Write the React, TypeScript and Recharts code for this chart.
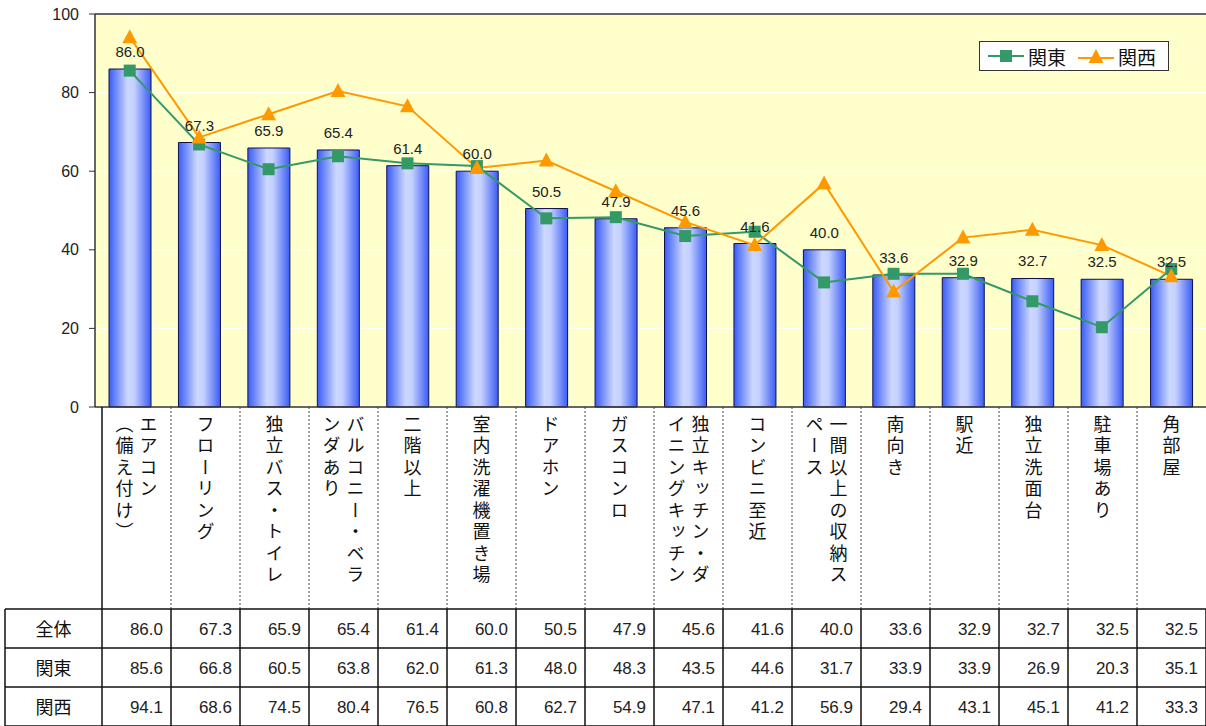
import {
  Bar,
  CartesianGrid,
  ComposedChart,
  LabelList,
  Legend,
  Line,
  ReferenceLine,
  XAxis,
  YAxis,
} from "recharts";

const categories = [
  "エアコン（備え付け）",
  "フローリング",
  "独立バス・トイレ",
  "バルコニー・ベランダあり",
  "二階以上",
  "室内洗濯機置き場",
  "ドアホン",
  "ガスコンロ",
  "独立キッチン・ダイニングキッチン",
  "コンビニ至近",
  "一間以上の収納スペース",
  "南向き",
  "駅近",
  "独立洗面台",
  "駐車場あり",
  "角部屋",
];

// how each label wraps in the vertical header cells
const labelColumns = [
  ["エアコン", "（備え付け）"],
  ["フローリング"],
  ["独立バス・トイレ"],
  ["バルコニー・ベラ", "ンダあり"],
  ["二階以上"],
  ["室内洗濯機置き場"],
  ["ドアホン"],
  ["ガスコンロ"],
  ["独立キッチン・ダ", "イニングキッチン"],
  ["コンビニ至近"],
  ["一間以上の収納ス", "ペース"],
  ["南向き"],
  ["駅近"],
  ["独立洗面台"],
  ["駐車場あり"],
  ["角部屋"],
];

const zentai = [86.0, 67.3, 65.9, 65.4, 61.4, 60.0, 50.5, 47.9, 45.6, 41.6, 40.0, 33.6, 32.9, 32.7, 32.5, 32.5];
const kanto = [85.6, 66.8, 60.5, 63.8, 62.0, 61.3, 48.0, 48.3, 43.5, 44.6, 31.7, 33.9, 33.9, 26.9, 20.3, 35.1];
const kansai = [94.1, 68.6, 74.5, 80.4, 76.5, 60.8, 62.7, 54.9, 47.1, 41.2, 56.9, 29.4, 43.1, 45.1, 41.2, 33.3];

const rowNames = ["全体", "関東", "関西"];
const yTicks = [0, 20, 40, 60, 80, 100];

const GREEN = "#339966";
const ORANGE = "#FF9900";
const FONT = "'Noto Sans CJK JP', sans-serif";
const NUM_FONT = "'Liberation Sans', Arial, sans-serif";

const data = categories.map((name, i) => ({
  name,
  zentai: zentai[i],
  kanto: kanto[i],
  kansai: kansai[i],
}));

function SquareDot(props: any) {
  const { cx, cy } = props;
  if (cx == null || cy == null) return null;
  return <rect x={cx - 6} y={cy - 6} width={12} height={12} fill={GREEN} />;
}

function TriangleDot(props: any) {
  const { cx, cy } = props;
  if (cx == null || cy == null) return null;
  return (
    <polygon
      points={`${cx},${cy - 8} ${cx - 7.5},${cy + 6} ${cx + 7.5},${cy + 6}`}
      fill={ORANGE}
    />
  );
}

function LegendBox() {
  return (
    <div
      style={{
        width: 188,
        height: 28,
        border: "1px solid #333",
        background: "#fff",
        display: "flex",
        alignItems: "center",
        fontFamily: FONT,
        fontSize: 19,
        color: "#111",
      }}
    >
      <svg width={40} height={20} style={{ marginLeft: 6 }}>
        <line x1={2} y1={10} x2={38} y2={10} stroke={GREEN} strokeWidth={2} />
        <rect x={14} y={4} width={12} height={12} fill={GREEN} />
      </svg>
      <span style={{ marginLeft: 2 }}>関東</span>
      <svg width={40} height={20} style={{ marginLeft: 10 }}>
        <line x1={2} y1={12} x2={38} y2={12} stroke={ORANGE} strokeWidth={2} />
        <polygon points="20,3 12.5,17 27.5,17" fill={ORANGE} />
      </svg>
      <span style={{ marginLeft: 2 }}>関西</span>
    </div>
  );
}

// table below the chart (header cells with vertical labels + value rows)
const TABLE_LEFT = 102;
const COL_W = 69;
const ROW_LABEL_LEFT = 5;
const HEADER_TOP = 407;
const ROWS_TOP = 609;
const ROW_H = 39;

function DataTable() {
  const rows = [zentai, kanto, kansai];
  const right = TABLE_LEFT + COL_W * categories.length;
  return (
    <svg
      width={1206}
      height={726}
      style={{ position: "absolute", left: 0, top: 0, pointerEvents: "none" }}
      fontFamily={FONT}
    >
      {/* header cells */}
      <line x1={TABLE_LEFT} y1={HEADER_TOP} x2={TABLE_LEFT} y2={ROWS_TOP + ROW_H * 3} stroke="#111" strokeWidth={1.5} />
      {categories.map((_, i) =>
        i === 0 ? null : (
          <line
            key={`d${i}`}
            x1={TABLE_LEFT + COL_W * i}
            y1={HEADER_TOP}
            x2={TABLE_LEFT + COL_W * i}
            y2={ROWS_TOP}
            stroke="#444"
            strokeDasharray="2 2"
          />
        )
      )}
      {labelColumns.map((cols, i) => {
        const cx = TABLE_LEFT + COL_W * i + COL_W / 2;
        const n = cols.length;
        return cols.map((txt, j) => (
          <text
            key={`l${i}-${j}`}
            x={cx + (n - 1) * 12 - j * 24}
            y={415}
            fontSize={18}
            letterSpacing={3.5}
            fill="#111"
            style={{ writingMode: "vertical-rl" as any }}
          >
            {txt}
          </text>
        ));
      })}

      {/* value rows */}
      {[0, 1, 2, 3].map((r) => (
        <line
          key={`h${r}`}
          x1={ROW_LABEL_LEFT}
          y1={ROWS_TOP + ROW_H * r}
          x2={right}
          y2={ROWS_TOP + ROW_H * r}
          stroke="#111"
          strokeWidth={1.5}
        />
      ))}
      <line x1={ROW_LABEL_LEFT} y1={ROWS_TOP} x2={ROW_LABEL_LEFT} y2={ROWS_TOP + ROW_H * 3} stroke="#111" strokeWidth={1.5} />
      {categories.map((_, i) => (
        <line
          key={`v${i}`}
          x1={TABLE_LEFT + COL_W * (i + 1)}
          y1={ROWS_TOP}
          x2={TABLE_LEFT + COL_W * (i + 1)}
          y2={ROWS_TOP + ROW_H * 3}
          stroke="#111"
          strokeWidth={1.5}
        />
      ))}
      {rowNames.map((nm, r) => (
        <text
          key={`rn${r}`}
          x={(ROW_LABEL_LEFT + TABLE_LEFT) / 2}
          y={ROWS_TOP + ROW_H * r + ROW_H / 2 + 7}
          textAnchor="middle"
          fontSize={18}
          fill="#111"
        >
          {nm}
        </text>
      ))}
      {rows.map((vals, r) =>
        vals.map((v, i) => (
          <text
            key={`c${r}-${i}`}
            x={TABLE_LEFT + COL_W * (i + 1) - 8}
            y={ROWS_TOP + ROW_H * r + ROW_H / 2 + 6}
            textAnchor="end"
            fontSize={17}
            fontFamily={NUM_FONT}
            fill="#222"
          >
            {v.toFixed(1)}
          </text>
        ))
      )}
    </svg>
  );
}

export default function App() {
  return (
    <div
      style={{
        position: "absolute",
        left: 0,
        top: 0,
        width: 1206,
        height: 726,
        background: "#fff",
        fontFamily: FONT,
        overflow: "hidden",
      }}
    >
      <ComposedChart
        width={1206}
        height={726}
        data={data}
        margin={{ top: 14, right: 0, left: 0, bottom: 0 }}
      >
        <defs>
          <linearGradient id="barFill" x1="0" y1="0" x2="1" y2="0">
            <stop offset="0%" stopColor="#3a5cf5" />
            <stop offset="45%" stopColor="#cdd8ff" />
            <stop offset="60%" stopColor="#c4d0ff" />
            <stop offset="100%" stopColor="#3a5cf5" />
          </linearGradient>
        </defs>
        <CartesianGrid fill="#FFFFCC" stroke="#ffffff" vertical={false} />
        <XAxis
          dataKey="name"
          height={319}
          tick={false}
          tickLine={false}
          axisLine={{ stroke: "#333", strokeWidth: 1.5 }}
        />
        <YAxis
          width={95}
          domain={[0, 100]}
          ticks={yTicks}
          tickSize={6}
          tickMargin={10}
          tick={{ fontSize: 16, fill: "#222", fontFamily: NUM_FONT }}
          tickLine={{ stroke: "#333" }}
          axisLine={{ stroke: "#333", strokeWidth: 1.5 }}
        />
        <ReferenceLine y={100} stroke="#333" strokeWidth={1.5} />
        <Legend
          layout="horizontal"
          verticalAlign="middle"
          align="center"
          content={() => <LegendBox />}
          wrapperStyle={{ left: 979, top: 41, width: 190, height: 30 }}
        />
        <Bar
          dataKey="zentai"
          name="全体"
          barSize={42}
          fill="url(#barFill)"
          stroke="#10104a"
          strokeWidth={1}
          isAnimationActive={false}
          legendType="none"
        >
          <LabelList
            dataKey="zentai"
            position="top"
            offset={12}
            formatter={(v: any) => Number(v).toFixed(1)}
            style={{ fontSize: 15, fill: "#222", fontFamily: NUM_FONT }}
          />
        </Bar>
        <Line
          dataKey="kanto"
          name="関東"
          type="linear"
          stroke={GREEN}
          strokeWidth={2}
          dot={<SquareDot />}
          activeDot={false}
          isAnimationActive={false}
        />
        <Line
          dataKey="kansai"
          name="関西"
          type="linear"
          stroke={ORANGE}
          strokeWidth={2}
          dot={<TriangleDot />}
          activeDot={false}
          isAnimationActive={false}
        />
      </ComposedChart>
      <DataTable />
    </div>
  );
}
